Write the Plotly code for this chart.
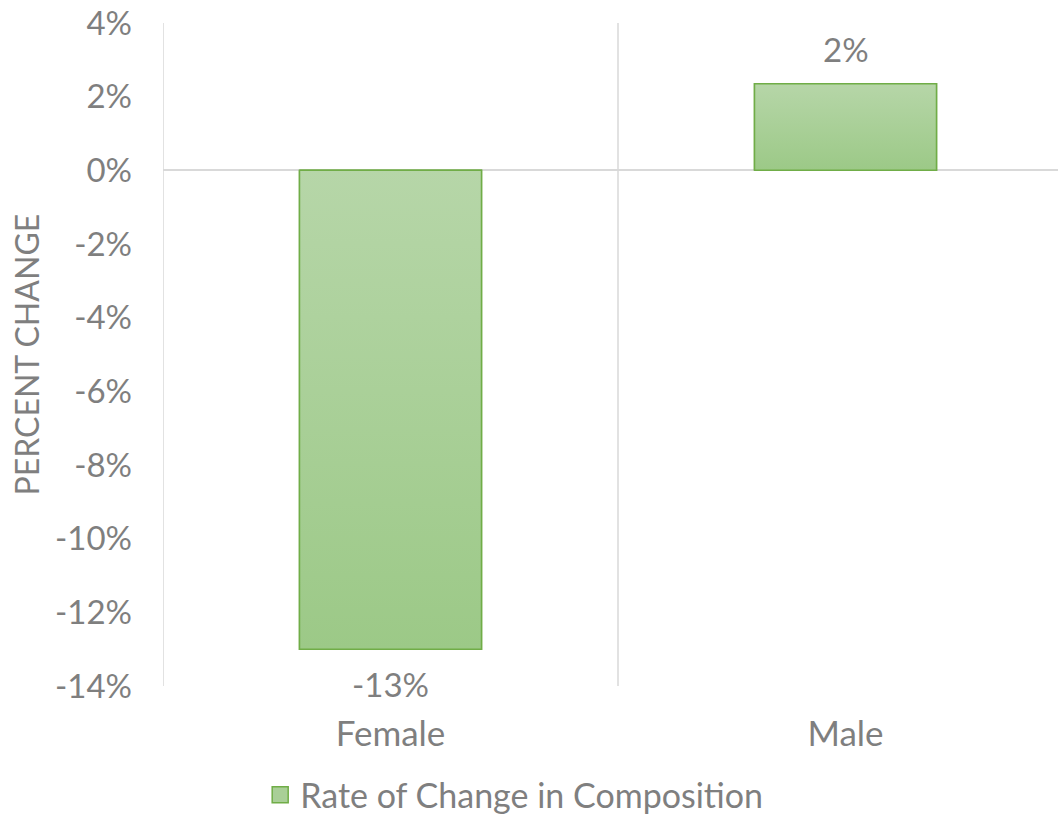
import plotly.graph_objects as go

# Rate of change in composition by sex
categories = ["Female", "Male"]
values = [-0.13, 0.0235]
series_name = "Rate of Change in Composition"

tick_vals = [-0.14, -0.12, -0.10, -0.08, -0.06, -0.04, -0.02, 0.0, 0.02, 0.04]
tick_labels = ["-14%", "-12%", "-10%", "-8%", "-6%", "-4%", "-2%", "0%", "2%", "4%"]

FONT = "Lato"
TEXT_GREY = "#7f7f7f"
GRID = "#d9d9d9"
EDGE = "#70ad47"
FILL_MID = "#a9cf97"
FILL_TOP = "#b6d6a8"
FILL_BOTTOM = "#9cc987"
BAR_WIDTH = 0.4

positions = list(range(len(categories)))
value_labels = [f"{v:.0%}" for v in values]

fig = go.Figure()

# base bars
fig.add_trace(go.Bar(
    x=positions,
    y=values,
    width=BAR_WIDTH,
    marker=dict(color=FILL_MID, line=dict(color=EDGE, width=1.5)),
    showlegend=False,
    hoverinfo="skip",
))

# vertical gradient fill over each bar
for pos, val in zip(positions, values):
    half = BAR_WIDTH / 2
    fig.add_trace(go.Scatter(
        x=[pos - half, pos + half, pos + half, pos - half, pos - half],
        y=[0, 0, val, val, 0],
        mode="lines",
        fill="toself",
        fillgradient=dict(type="vertical",
                          colorscale=[[0, FILL_BOTTOM], [1, FILL_TOP]]),
        line=dict(color=EDGE, width=1.5),
        showlegend=False,
        hoverinfo="skip",
    ))

# legend entry
fig.add_trace(go.Scatter(
    x=[None], y=[None],
    mode="markers",
    name=series_name,
    marker=dict(symbol="square", size=16, color=FILL_MID,
                line=dict(color=EDGE, width=1.5)),
))

# value labels just beyond the end of each bar
annotations = []
for pos, val, lab in zip(positions, values, value_labels):
    annotations.append(dict(
        x=pos, y=val, xref="x", yref="y",
        text=lab, showarrow=False,
        xanchor="center", yanchor="middle",
        yshift=35 if val >= 0 else -35,
        font=dict(family=FONT, size=33, color=TEXT_GREY),
    ))

# axis title
annotations.append(dict(
    text="PERCENT CHANGE",
    xref="paper", yref="paper",
    x=-0.152, y=0.5,
    xanchor="center", yanchor="middle",
    textangle=-90,
    showarrow=False,
    font=dict(family=FONT, size=32, color=TEXT_GREY),
))

# category separators (gridlines between the categories)
separators = [p - 0.5 for p in positions]
shapes = [dict(type="line", xref="x", yref="paper", x0=s, x1=s, y0=0, y1=1,
               line=dict(color=GRID, width=1.5), layer="below")
          for s in separators]

fig.update_layout(
    width=1058,
    height=818,
    margin=dict(l=163, r=0, t=23, b=132),
    paper_bgcolor="white",
    plot_bgcolor="white",
    font=dict(family=FONT, size=32, color=TEXT_GREY),
    legend=dict(
        orientation="h",
        xref="container", yref="container",
        x=0.486, xanchor="center",
        y=0.028, yanchor="middle",
        font=dict(family=FONT, size=34, color=TEXT_GREY),
        itemsizing="trace",
    ),
    xaxis=dict(
        range=[-0.5, 1.5 - 15 / 455],
        tickmode="array",
        tickvals=positions,
        ticktext=categories,
        showgrid=False,
        zeroline=False,
        showline=False,
        ticks="",
        ticklabelstandoff=24,
        tickfont=dict(family=FONT, size=35, color=TEXT_GREY),
    ),
    yaxis=dict(
        range=[-0.14, 0.04],
        tickmode="array",
        tickvals=tick_vals,
        ticktext=tick_labels,
        showgrid=False,
        zeroline=True,
        zerolinecolor=GRID,
        zerolinewidth=1.5,
        showline=False,
        ticks="",
        ticklabelstandoff=30,
        tickfont=dict(family=FONT, size=33, color=TEXT_GREY),
    ),
    shapes=shapes,
    annotations=annotations,
)

fig.write_html("out.html")
